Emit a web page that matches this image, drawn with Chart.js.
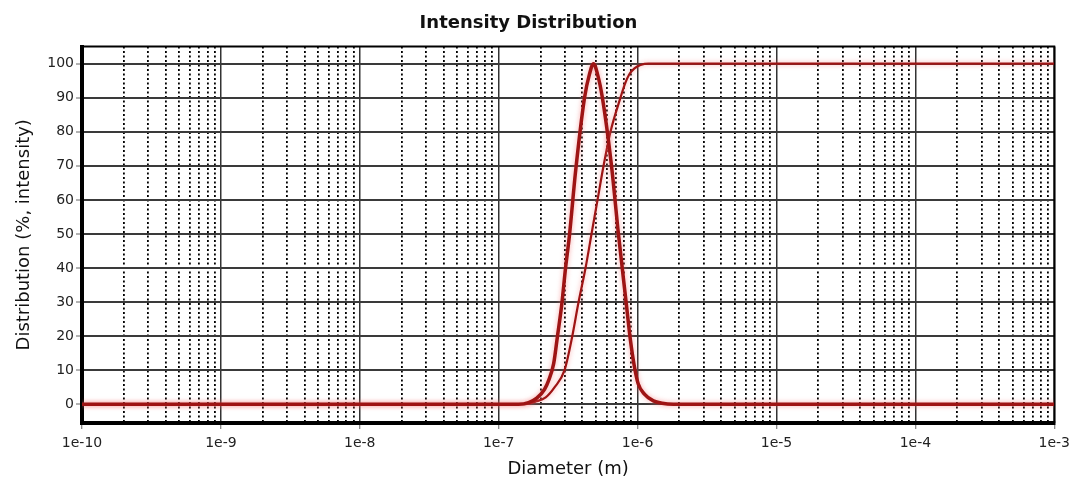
<!DOCTYPE html>
<html>
<head>
<meta charset="utf-8">
<script src="https://cdn.jsdelivr.net/npm/chart.js@4.4.1/dist/chart.umd.min.js"></script>
<style>
    html, body { margin: 0; padding: 0; background: #fff; }
    #grafico { width: 1076px; height: 482px; }
</style>
</head>
<body>
<div id="grafico"><canvas id="distribuicaoChart"></canvas></div>
<script>
// ============================================
// DADOS
// ============================================

// Curva de intensidade (diâmetro em m, %)
const diamIntensidade = [1e-10, 1.39e-7, 1.64e-7, 1.88e-7, 2.14e-7, 2.29e-7, 2.49e-7, 2.65e-7, 2.84e-7,
    3.03e-7, 3.24e-7, 3.57e-7, 4.15e-7, 4.51e-7, 4.82e-7, 5.14e-7, 5.58e-7, 6.49e-7, 7.28e-7,
    8.32e-7, 8.87e-7, 9.49e-7, 1.01e-6, 1.12e-6, 1.30e-6, 1.50e-6, 1.81e-6, 1e-3];
const valIntensidade = [0, 0, 0.5, 1.8, 4.4, 7, 12, 20, 29,
    40, 50, 68, 90, 97, 100, 97, 90, 70, 50,
    29, 19, 11, 6, 3, 1, 0.3, 0, 0];

// Curva acumulada (diâmetro em m, %)
const diamAcumulada = [1e-10, 1.51e-7, 1.85e-7, 2.18e-7, 2.53e-7, 2.98e-7, 3.35e-7, 3.76e-7, 4.22e-7,
    4.66e-7, 5.15e-7, 5.69e-7, 6.38e-7, 7.53e-7, 8.10e-7, 8.70e-7, 9.50e-7, 1.05e-6, 1.20e-6, 1e-3];
const valAcumulada = [0, 0, 0.8, 2, 5, 10, 19, 30, 40,
    50, 60, 70, 80, 90, 94, 96.8, 98.6, 99.6, 100, 100];

// Marcas dos eixos
const ticksX = [1e-10, 1e-9, 1e-8, 1e-7, 1e-6, 1e-5, 1e-4, 1e-3];
const rotulosX = ['1e-10', '1e-9', '1e-8', '1e-7', '1e-6', '1e-5', '1e-4', '1e-3'];
const multiplicadoresMenores = [2, 3, 4, 5, 6, 7, 8, 9];
const ticksY = [0, 10, 20, 30, 40, 50, 60, 70, 80, 90, 100];

const corCurva = '#9e1414';
const fonte = 'DejaVu Sans';

// Linhas pontilhadas entre as décadas
const ticksMenores = [];
ticksX.slice(0, -1).forEach(dec => {
    multiplicadoresMenores.forEach(m => ticksMenores.push(parseFloat((dec * m).toPrecision(3))));
});

function montarPontos(xs, ys) {
    return xs.map((x, i) => ({ x: x, y: ys[i] }));
}

// Moldura superior e direita
const moldura = {
    id: 'moldura',
    beforeDatasetsDraw(chart) {
        const { ctx, chartArea } = chart;
        ctx.save();
        ctx.strokeStyle = '#000';
        ctx.lineWidth = 2;
        ctx.beginPath();
        ctx.moveTo(chartArea.left, chartArea.top);
        ctx.lineTo(chartArea.right, chartArea.top);
        ctx.lineTo(chartArea.right, chartArea.bottom);
        ctx.stroke();
        ctx.restore();
    }
};

// Halo rosado em volta das curvas
const halo = {
    id: 'halo',
    beforeDatasetsDraw(chart) {
        chart.ctx.save();
        chart.ctx.shadowColor = 'rgba(245, 110, 110, 0.6)';
        chart.ctx.shadowBlur = 5;
    },
    afterDatasetsDraw(chart) {
        chart.ctx.restore();
    }
};

const ctx = document.getElementById('distribuicaoChart').getContext('2d');

new Chart(ctx, {
    type: 'line',
    data: {
        datasets: [{
            label: 'Intensidade',
            data: montarPontos(diamIntensidade, valIntensidade),
            borderColor: corCurva,
            borderWidth: 3.5,
            pointRadius: 0,
            cubicInterpolationMode: 'monotone',
            fill: false
        }, {
            label: 'Acumulada',
            data: montarPontos(diamAcumulada, valAcumulada),
            borderColor: corCurva,
            borderWidth: 2.2,
            pointRadius: 0,
            cubicInterpolationMode: 'monotone',
            fill: false
        }]
    },
    options: {
        responsive: true,
        maintainAspectRatio: false,
        animation: false,
        layout: {
            padding: { left: 0, right: 19, top: 0, bottom: 0 }
        },
        plugins: {
            legend: { display: false },
            tooltip: { enabled: false },
            title: {
                display: true,
                text: 'Intensity Distribution',
                color: '#111',
                font: { family: fonte, size: 18, weight: 'bold' },
                padding: { top: 13, bottom: 12 }
            }
        },
        scales: {
            x: {
                type: 'logarithmic',
                position: 'bottom',
                min: 1e-10,
                max: 1e-3,
                afterBuildTicks: (scale) => {
                    scale.ticks = ticksX.map(v => ({ value: v }));
                },
                afterFit: (scale) => { scale.height = 59; },
                ticks: {
                    autoSkip: false,
                    maxRotation: 0,
                    padding: 6,
                    color: '#222',
                    font: { family: fonte, size: 14 },
                    callback: function (value) {
                        const i = ticksX.indexOf(value);
                        return i >= 0 ? rotulosX[i] : '';
                    }
                },
                grid: {
                    color: '#333',
                    lineWidth: 1.5,
                    tickLength: 6,
                    tickColor: '#666',
                    tickWidth: 1
                },
                border: { display: true, color: '#000', width: 4 },
                title: {
                    display: true,
                    text: 'Diameter (m)',
                    color: '#111',
                    font: { family: fonte, size: 18 },
                    padding: { top: 0, bottom: 2 }
                }
            },
            xMenor: {
                type: 'logarithmic',
                position: 'bottom',
                min: 1e-10,
                max: 1e-3,
                afterBuildTicks: (scale) => {
                    scale.ticks = ticksMenores.map(v => ({ value: v }));
                },
                afterFit: (scale) => { scale.height = 0; },
                ticks: { display: false },
                grid: {
                    color: '#000',
                    lineWidth: 1.8,
                    drawTicks: false
                },
                border: { display: false, dash: [2, 2.5] },
                title: { display: false }
            },
            y: {
                min: -5.5,
                max: 105,
                afterBuildTicks: (scale) => {
                    scale.ticks = ticksY.map(v => ({ value: v }));
                },
                afterFit: (scale) => { scale.width = 82; },
                ticks: {
                    padding: 2,
                    color: '#222',
                    font: { family: fonte, size: 14 }
                },
                grid: {
                    color: '#3a3a3a',
                    lineWidth: 2,
                    tickLength: 6,
                    tickColor: '#666',
                    tickWidth: 1
                },
                border: { display: true, color: '#000', width: 4 },
                title: {
                    display: true,
                    text: 'Distribution (%, intensity)',
                    color: '#111',
                    font: { family: fonte, size: 18 },
                    padding: { top: 14, bottom: 0 }
                }
            }
        }
    },
    plugins: [moldura, halo]
});
</script>
</body>
</html>
